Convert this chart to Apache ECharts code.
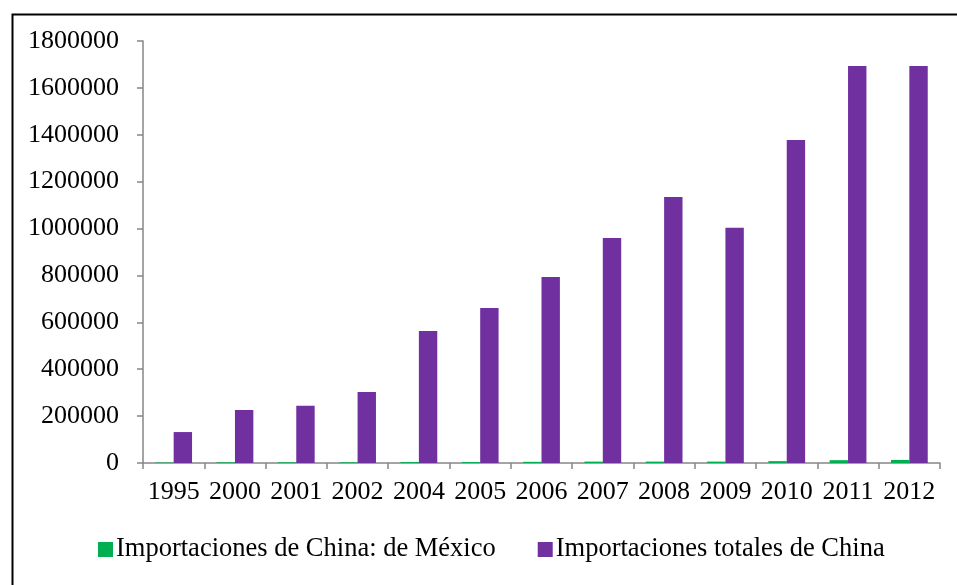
<!DOCTYPE html>
<html>
<head>
<meta charset="utf-8">
<script src="https://cdn.jsdelivr.net/npm/echarts@6/dist/echarts.min.js"></script>
<style>
html,body{margin:0;padding:0;background:#fff;}
#chart{width:957px;height:585px;}
</style>
</head>
<body>
<div id="chart"></div>
<script>
const years = ['1995','2000','2001','2002','2004','2005','2006','2007','2008','2009','2010','2011','2012'];
const mexico = [2000,3000,3000,3000,4000,4000,5000,6000,6000,6000,8000,12000,13000];
const total = [132000,226000,244000,303000,563000,661000,793000,960000,1135000,1003000,1378000,1693000,1693000];
const seriesNames = ['Importaciones de China: de México','Importaciones totales de China'];

const font = 'Liberation Serif, Times New Roman, serif';
const chart = echarts.init(document.getElementById('chart'));
chart.setOption({
  animation: false,
  backgroundColor: '#fff',
  graphic: [{
    type: 'rect', left: 10, top: 12,
    shape: {width: 1000, height: 700},
    style: {fill: 'none', stroke: '#000', lineWidth: 2}
  }],
  grid: {left: 143, right: 17, top: 41, bottom: 122},
  legend: {
    bottom: 17, left: 93,
    itemWidth: 15, itemHeight: 15, itemGap: 42,
    icon: 'rect',
    textStyle: {fontFamily: font, fontSize: 26.5, color: '#000', padding: [0,0,0,-2]},
    data: seriesNames
  },
  xAxis: {
    type: 'category', data: years,
    axisLine: {lineStyle: {color: '#868686', width: 1.5}},
    axisTick: {show: true, length: 6, lineStyle: {color: '#868686', width: 1.5}},
    axisLabel: {fontFamily: font, fontSize: 26, color: '#000', margin: 16, interval: 0}
  },
  yAxis: {
    type: 'value', min: 0, max: 1800000, interval: 200000,
    splitLine: {show: false},
    axisLine: {show: true, lineStyle: {color: '#868686', width: 1.5}},
    axisTick: {show: true, length: 6, lineStyle: {color: '#868686', width: 1.5}},
    axisLabel: {fontFamily: font, fontSize: 26, color: '#000', margin: 24,
      formatter: v => String(v)}
  },
  series: [
    {name: seriesNames[0], type: 'bar', data: mexico, barGap: '0%', barCategoryGap: '40%',
     itemStyle: {color: '#00B050'}},
    {name: seriesNames[1], type: 'bar', data: total, barGap: '0%', barCategoryGap: '40%',
     itemStyle: {color: '#7030A0'}}
  ]
});
</script>
</body>
</html>
